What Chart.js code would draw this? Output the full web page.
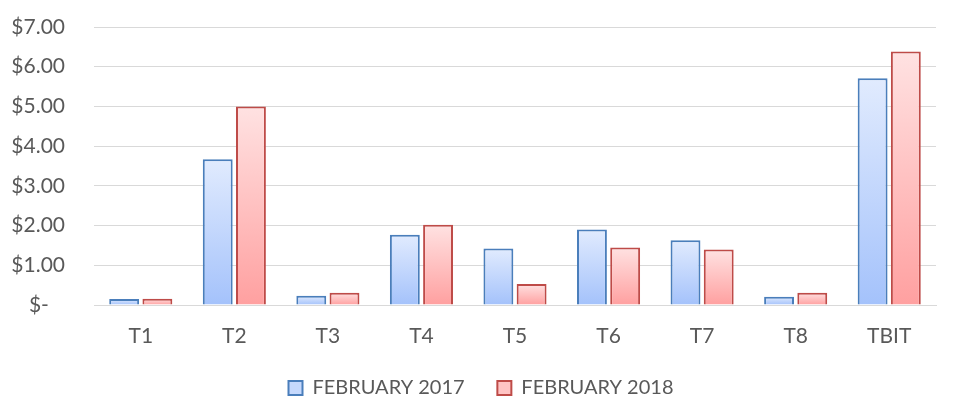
<!DOCTYPE html>
<html>
<head>
<meta charset="utf-8">
<script src="https://cdn.jsdelivr.net/npm/chart.js@4"></script>
<style>
  html, body { margin: 0; padding: 0; background: #fff; }
  #wrap { width: 957px; height: 403px; }
</style>
</head>
<body>
<div id="wrap"><canvas id="barChart" width="957" height="403"></canvas></div>
<script>
// chart data
const categories = ['T1', 'T2', 'T3', 'T4', 'T5', 'T6', 'T7', 'T8', 'TBIT'];
const feb2017 = [0.15, 3.67, 0.23, 1.77, 1.42, 1.90, 1.63, 0.21, 5.71];
const feb2018 = [0.16, 5.00, 0.31, 2.02, 0.53, 1.45, 1.40, 0.31, 6.38];
const seriesNames = ['FEBRUARY 2017', 'FEBRUARY 2018'];

// per-bar vertical gradient, light on top
function barGradient(top, bottom) {
    return function(context) {
        const chart = context.chart;
        const yScale = chart.scales.y;
        if (!yScale || context.parsed === undefined) return bottom;
        const y0 = yScale.getPixelForValue(context.parsed.y);
        const y1 = yScale.getPixelForValue(0);
        if (!isFinite(y0) || !isFinite(y1) || y0 === y1) return bottom;
        const g = chart.ctx.createLinearGradient(0, y0, 0, y1);
        g.addColorStop(0, top);
        g.addColorStop(1, bottom);
        return g;
    };
}

const textColor = '#595959';
const fontFamily = 'Lato, "Open Sans", sans-serif';
// gap between the two legend entries
const legendGap = '      ';

// nudge the legend a little lower / right of where Chart.js puts it
const legendNudge = {
    id: 'legendNudge',
    afterLayout: function(chart) {
        if (chart.legend) {
            chart.legend.top += 5;
            chart.legend.bottom += 5;
            chart.legend.left += 13;
            chart.legend.right += 13;
        }
    }
};

const ctx = document.getElementById('barChart').getContext('2d');
new Chart(ctx, {
    type: 'bar',
    data: {
        labels: categories,
        datasets: [{
            label: seriesNames[0],
            data: feb2017,
            backgroundColor: barGradient('#e1ebfe', '#a4c2fb'),
            borderColor: '#4a7ebb',
            borderWidth: 2,
            borderSkipped: 'bottom',
            legendFill: '#c6d9fd'
        }, {
            label: seriesNames[1],
            data: feb2018,
            backgroundColor: barGradient('#ffe2e2', '#ffa0a0'),
            borderColor: '#be4b48',
            borderWidth: 2,
            borderSkipped: 'bottom',
            legendFill: '#ffc4c4'
        }]
    },
    options: {
        responsive: false,
        animation: false,
        maintainAspectRatio: false,
        categoryPercentage: 0.71,
        barPercentage: 0.9,
        layout: {
            padding: { left: 0, right: 21, top: 0, bottom: 0 }
        },
        scales: {
            x: {
                grid: { display: false, drawTicks: false },
                border: { display: true, color: '#d9d9d9', width: 1 },
                ticks: {
                    color: textColor,
                    font: { family: fontFamily, size: 21 },
                    padding: 19
                },
                afterFit: function(scale) {
                    scale.height = 66;
                }
            },
            y: {
                min: 0,
                max: 7,
                grid: { color: '#d9d9d9', lineWidth: 1, drawTicks: false },
                border: { display: false },
                ticks: {
                    stepSize: 1,
                    color: textColor,
                    font: { family: fontFamily, size: 21 },
                    padding: 29,
                    callback: function(v) {
                        return v === 0 ? '$-   ' : '$' + v.toFixed(2);
                    }
                },
                afterFit: function(scale) {
                    scale.width = 94;
                    scale.paddingTop = 27;
                }
            }
        },
        plugins: {
            legend: {
                position: 'bottom',
                labels: {
                    color: textColor,
                    font: { family: fontFamily, size: 20 },
                    boxWidth: 14,
                    boxHeight: 14,
                    padding: 2,
                    generateLabels: function(chart) {
                        return chart.data.datasets.map(function(ds, i) {
                            return {
                                text: i === 0 ? ds.label + legendGap : ds.label,
                                fillStyle: ds.legendFill,
                                strokeStyle: ds.borderColor,
                                lineWidth: 2,
                                fontColor: textColor,
                                datasetIndex: i
                            };
                        });
                    }
                }
            },
            tooltip: { enabled: false }
        }
    },
    plugins: [legendNudge]
});
</script>
</body>
</html>
